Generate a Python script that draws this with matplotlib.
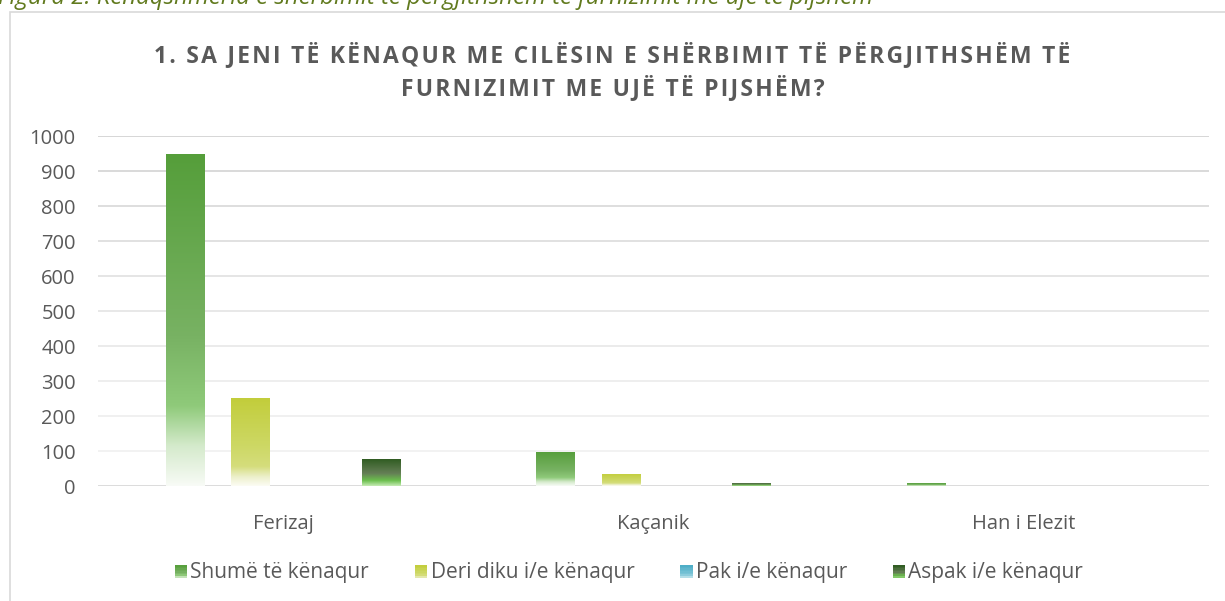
import numpy as np
import matplotlib
matplotlib.use("Agg")
import matplotlib.pyplot as plt
from matplotlib.colors import LinearSegmentedColormap
from matplotlib.patches import Rectangle
from matplotlib.legend_handler import HandlerBase

plt.rcParams['font.family'] = ['Open Sans', 'DejaVu Sans']

# data
komunat = ['Ferizaj', 'Kaçanik', 'Han i Elezit']
seri_emrat = ['Shumë të kënaqur', 'Deri diku i/e kënaqur', 'Pak i/e kënaqur', 'Aspak i/e kënaqur']
shume = [950, 98, 8]
deri_diku = [252, 35, 0]
pak = [0, 0, 0]
aspak = [78, 9, 0]
yticks = [0, 100, 200, 300, 400, 500, 600, 700, 800, 900, 1000]

titulli_rreshtat = ['1. SA JENI TË KËNAQUR ME CILËSIN E SHËRBIMIT TË PËRGJITHSHËM TË',
                    'FURNIZIMIT ME UJË TË PIJSHËM?']
caption = 'Figura 2. Kënaqshmëria e shërbimit të përgjithshëm të furnizimit me ujë të pijshëm'

# gradient stops (top -> bottom) for each series
gradients = [
    [(0.0, '#559E3A'), (0.55, '#78B263'), (0.76, '#8FCA7A'), (0.88, '#D4EACB'), (1.0, '#F8FBF6')],
    [(0.0, '#C2CD3A'), (0.55, '#CDD865'), (0.78, '#D5DD7C'), (0.9, '#EDF0CC'), (1.0, '#FCFCF4')],
    [(0.0, '#4BACC6'), (0.7, '#7FC6D8'), (1.0, '#E9F5F8')],
    [(0.0, '#2D5A1F'), (0.55, '#657F56'), (0.8, '#6BBE4D'), (1.0, '#C6EBB5')],
]
cmaps = [LinearSegmentedColormap.from_list('g%d' % i, g) for i, g in enumerate(gradients)]
txt_col = '#595959'

fig = plt.figure(figsize=(12.25, 6.01), dpi=100)
ax = fig.add_axes([0.08, 0.1913, 0.907, 0.5824])

x = np.arange(len(komunat))
w = 0.105
step = 0.176
series = [shume, deri_diku, pak, aspak]

grad = np.linspace(0, 1, 256).reshape(-1, 1)
for i, vals in enumerate(series):
    off = (i - 1.5) * step
    bars = ax.bar(x + off, vals, w, color='none', edgecolor='none')
    for b in bars:
        h = b.get_height()
        if h <= 0:
            continue
        x0 = b.get_x()
        im = ax.imshow(grad, cmap=cmaps[i], aspect='auto',
                       extent=(x0, x0 + b.get_width(), 0, h),
                       origin='upper', zorder=3, interpolation='bilinear')
        im.set_clip_path(b)

ax.set_xlim(-0.5, 2.5)
ax.set_ylim(0, 1000)
ax.set_yticks(yticks)
ax.set_xticks(x)
ax.set_xticklabels(komunat)

# gridlines fade towards the bottom
grid_cols = ['#D9D9D9', '#F0F0F0', '#EEEEEE', '#EBEBEB', '#E8E8E8', '#E4E4E4',
             '#E0E0E0', '#DCDCDC', '#D8D8D8', '#D3D3D3', '#D0D0D0']
for yv, c in zip(yticks, grid_cols):
    ax.axhline(yv, color=c, lw=1.3 if yv == 0 else 1.2, zorder=1)

for s in ax.spines.values():
    s.set_visible(False)
ax.tick_params(axis='both', length=0, labelsize=14.5, colors=txt_col)
ax.tick_params(axis='x', pad=20)
ax.tick_params(axis='y', pad=16)


class GradHandler(HandlerBase):
    def __init__(self, cmap):
        super().__init__()
        self.cmap = cmap

    def create_artists(self, legend, orig_handle, xdescent, ydescent, width, height, fontsize, trans):
        n = 8
        side = 9
        x0 = -xdescent
        y0 = -ydescent + (height - side) / 2 - 1
        arts = []
        for k in range(n):
            c = self.cmap(0.05 + 0.8 * k / (n - 1))
            arts.append(Rectangle((x0, y0 + side * (n - 1 - k) / n), side, side / n + 0.3,
                                  facecolor=c, edgecolor='none', transform=trans))
        return arts


handles = [Rectangle((0, 0), 1, 1) for _ in seri_emrat]
leg = fig.legend(handles, seri_emrat, loc='center', bbox_to_anchor=(0.5135, 0.048), ncol=4,
                 frameon=False, fontsize=15, handlelength=0.45, handletextpad=0.3,
                 columnspacing=2.2,
                 handler_map={h: GradHandler(cm) for h, cm in zip(handles, cmaps)})
for t in leg.get_texts():
    t.set_color(txt_col)

# title with a little letter spacing (hair spaces between letters)
hs = '\u200a'
for yy, rr in zip([0.9085, 0.8536], titulli_rreshtat):
    fig.text(0.5, yy, hs.join(rr), ha='center', va='center', fontsize=16.5, fontweight='bold',
             color=txt_col)

# chart frame and caption above it (cut off at the top)
fig.patches.append(Rectangle((10 / 1225, -0.1), 1.2, 1 - 12 / 601 + 0.1, transform=fig.transFigure,
                             facecolor='none', edgecolor='#D9D9D9', lw=1.2))
fig.text(-0.002, 1 - 4 / 601, caption, ha='left', va='baseline', fontsize=17.3, style='italic',
         color='#617A1E')

fig.savefig('out.png', dpi=100)
